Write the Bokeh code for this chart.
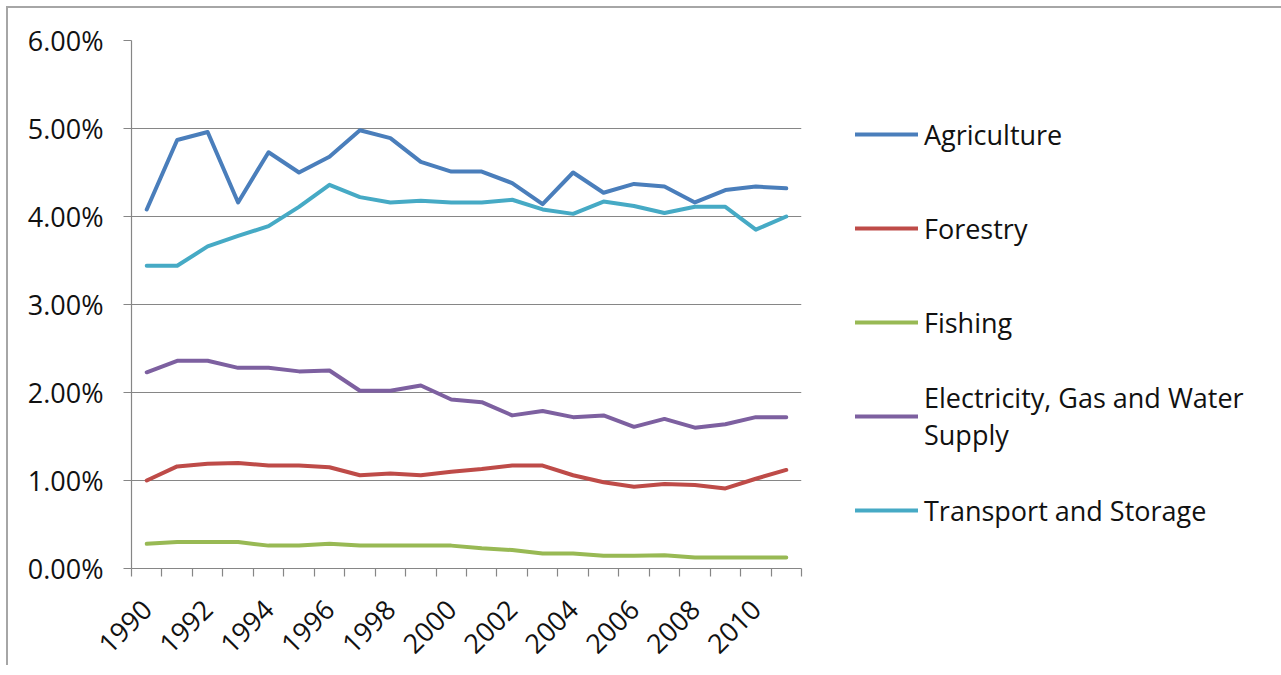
import math
from bokeh.plotting import figure
from bokeh.models import Range1d, FixedTicker, NumeralTickFormatter, Legend, LegendItem
from bokeh.embed import file_html
from bokeh.resources import INLINE

# ---------------- data (percent of total) ----------------
years = list(range(1990, 2012))
year_labels = [1990, 1992, 1994, 1996, 1998, 2000, 2002, 2004, 2006, 2008, 2010]
y_ticks_pct = [0, 1, 2, 3, 4, 5, 6]

agriculture = [4.08, 4.87, 4.96, 4.16, 4.73, 4.50, 4.68, 4.98, 4.89, 4.62, 4.51,
               4.51, 4.38, 4.14, 4.50, 4.27, 4.37, 4.34, 4.16, 4.30, 4.34, 4.32]
forestry = [1.00, 1.16, 1.19, 1.20, 1.17, 1.17, 1.15, 1.06, 1.08, 1.06, 1.10,
            1.13, 1.17, 1.17, 1.06, 0.98, 0.93, 0.96, 0.95, 0.91, 1.02, 1.12]
fishing = [0.28, 0.30, 0.30, 0.30, 0.26, 0.26, 0.28, 0.26, 0.26, 0.26, 0.26,
           0.23, 0.21, 0.17, 0.17, 0.145, 0.145, 0.15, 0.125, 0.125, 0.125, 0.125]
electricity = [2.23, 2.36, 2.36, 2.28, 2.28, 2.24, 2.25, 2.02, 2.02, 2.08, 1.92,
               1.89, 1.74, 1.79, 1.72, 1.74, 1.61, 1.70, 1.60, 1.64, 1.72, 1.72]
transport = [3.44, 3.44, 3.66, 3.78, 3.89, 4.11, 4.36, 4.22, 4.16, 4.18, 4.16,
             4.16, 4.19, 4.08, 4.03, 4.17, 4.12, 4.04, 4.11, 4.11, 3.85, 4.00]

series_names = ["Agriculture", "Forestry", "Fishing",
                "Electricity, Gas and Water\nSupply", "Transport and Storage"]
series_values = [agriculture, forestry, fishing, electricity, transport]
series_colors = ["#4A7EBB", "#BE4B48", "#98B954", "#7D60A0", "#46AAC5"]

# ---------------- layout ----------------
FRAME_W, FRAME_H = 670, 528
LEFT, TOP, BOTTOM = 123, 32, 90
FONT = "Open Sans"
GRAY = "#868686"

p = figure(frame_width=FRAME_W, frame_height=FRAME_H, output_backend="svg",
           toolbar_location=None,
           x_range=Range1d(years[0] - 0.5, years[-1] + 0.5),
           y_range=Range1d(0, 0.06),
           min_border_left=LEFT, min_border_right=0,
           min_border_top=TOP, min_border_bottom=BOTTOM)
p.outline_line_color = None
p.background_fill_color = "white"
p.border_fill_color = "white"
# chart-area border (top and left edges are the ones visible in the reference)
p.styles = {"margin": "6px 0 0 6px",
            "border-top": "2px solid #a6a6a6",
            "border-left": "2px solid #a6a6a6"}

# x axis: labels on every other year, tick marks between categories
p.xaxis.ticker = FixedTicker(ticks=year_labels,
                             minor_ticks=[y - 0.5 for y in years] + [years[-1] + 0.5])
p.xaxis.major_tick_out = 0
p.xaxis.major_tick_in = 0
p.xaxis.minor_tick_out = 8
p.xaxis.minor_tick_in = 0
p.xaxis.minor_tick_line_color = GRAY
p.xaxis.minor_tick_line_width = 1.2
p.xaxis.major_label_orientation = math.pi / 4
p.xaxis.major_label_standoff = 28

# y axis
p.yaxis.ticker = FixedTicker(ticks=[v / 100 for v in y_ticks_pct])
p.yaxis.formatter = NumeralTickFormatter(format="0.00%")
p.yaxis.major_tick_out = 8
p.yaxis.major_tick_in = 0
p.yaxis.minor_tick_out = 0
p.yaxis.minor_tick_in = 0
p.yaxis.major_label_standoff = 20

for ax in (p.xaxis, p.yaxis):
    ax.axis_line_color = GRAY
    ax.axis_line_width = 1.2
    ax.major_tick_line_color = GRAY
    ax.major_tick_line_width = 1.2
    ax.major_label_text_font = FONT
    ax.major_label_text_font_size = "27px"
    ax.major_label_text_color = "#111111"

p.xgrid.grid_line_color = None
p.ygrid.grid_line_color = GRAY
p.ygrid.grid_line_width = 1.2

renderers = []
for vals, col in zip(series_values, series_colors):
    r = p.line(years, [v / 100 for v in vals], line_color=col, line_width=4,
               line_cap="round", line_join="round")
    renderers.append(r)

item_h, gap = 78, 16
legend_h = len(series_names) * item_h + (len(series_names) - 1) * gap
legend = Legend(items=[LegendItem(label=n, renderers=[r])
                       for n, r in zip(series_names, renderers)],
                location=(54, FRAME_H - 55 - legend_h), margin=0, padding=0,
                spacing=gap, glyph_width=63, glyph_height=item_h, label_height=item_h,
                label_standoff=6,
                label_text_font=FONT, label_text_font_size="27px",
                label_text_color="#111111",
                border_line_color=None, background_fill_alpha=0)
p.add_layout(legend, "right")

open("out.html", "w").write(file_html(p, INLINE))
